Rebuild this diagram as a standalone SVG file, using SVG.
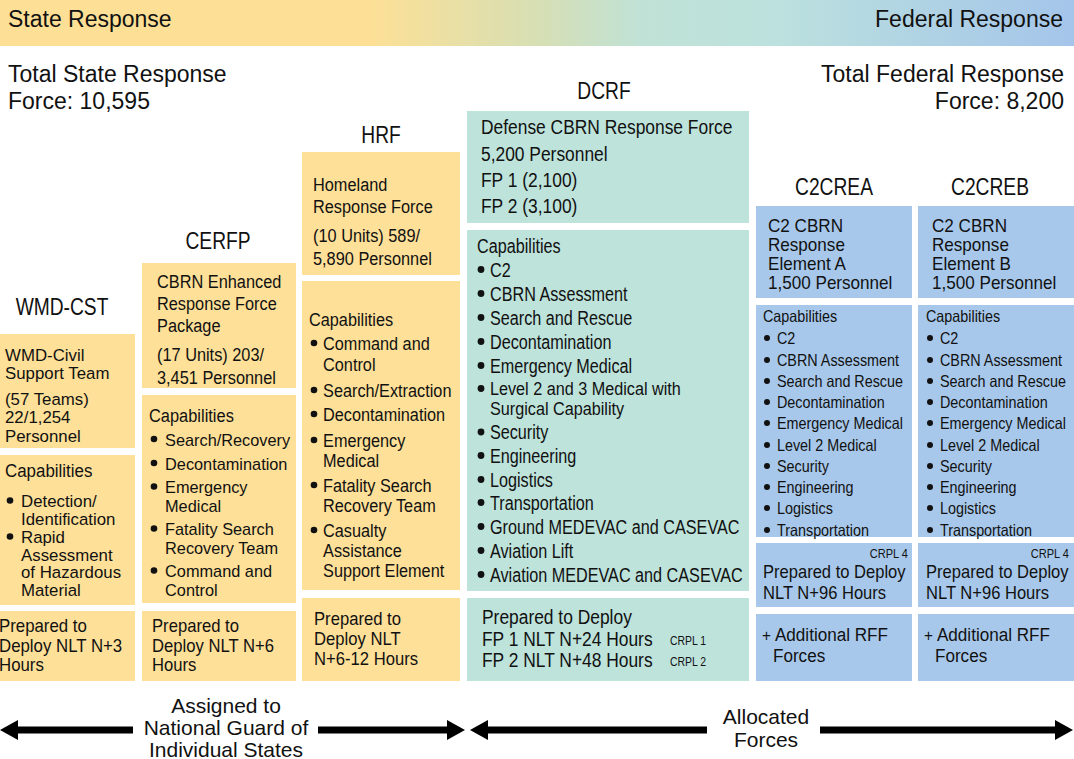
<svg xmlns="http://www.w3.org/2000/svg" width="1074" height="759" viewBox="0 0 1074 759">
<defs>
<linearGradient id="bar" x1="0" y1="0" x2="1074" y2="0" gradientUnits="userSpaceOnUse">
<stop offset="0" stop-color="#FDE096"/>
<stop offset="0.345" stop-color="#FDE096"/>
<stop offset="0.503" stop-color="#D6DFB4"/>
<stop offset="0.596" stop-color="#C0E2D6"/>
<stop offset="0.708" stop-color="#BDE2DD"/>
<stop offset="1" stop-color="#A4C5EA"/>
</linearGradient>
<marker id="ah" markerUnits="userSpaceOnUse" markerWidth="18" markerHeight="20" viewBox="0 0 18 20" refX="0" refY="10" orient="auto">
<path d="M0,0 L18,10 L0,20 Z" fill="#000"/>
</marker>
</defs>
<style>
text{font-family:"Liberation Sans",Arial,Helvetica,sans-serif;fill:#111}
.y{fill:#FEE098}.g{fill:#BEE3DB}.bl{fill:#A7C8EA}
.big{font-size:23px}
.hd{font-size:24px;text-anchor:middle}
.s19{font-size:19px}.s20{font-size:20px}.s16{font-size:16.5px}.s12{font-size:12px}.s17{font-size:17px}.s18{font-size:18px}.s175{font-size:17.5px}.s185{font-size:18.5px}
.b{fill:#111}
.arr{stroke:#000;stroke-width:7;fill:none}
.lbl{font-size:21px;text-anchor:middle}
.end{text-anchor:end}
</style>
<rect width="1074" height="759" fill="#fff"/>

<g id="banner">
<rect x="0" y="0" width="1074" height="46" fill="url(#bar)"/>
<text class="big" x="8" y="27">State Response</text>
<text class="big end" x="1063" y="27">Federal Response</text>
<text class="big" x="8" y="82">Total State Response</text>
<text class="big" x="8" y="109">Force: 10,595</text>
<text class="big end" x="1064" y="82">Total Federal Response</text>
<text class="big end" x="1064" y="109">Force: 8,200</text>
</g>

<!-- WMD-CST -->
<g id="wmd-cst">
<g transform="translate(62 0) scale(0.8 1)"><text class="hd" x="0" y="315">WMD-CST</text></g>
<g id="wmd-unit">
<rect class="y" x="0" y="334" width="135" height="114"/>
<g class="s16" transform="translate(5 0) scale(1.02 1)">
<text x="0" y="361">WMD-Civil</text>
<text x="0" y="379">Support Team</text>
<text x="0" y="405">(57 Teams)</text>
<text x="0" y="423.5">22/1,254</text>
<text x="0" y="442.5">Personnel</text>
</g>
</g>
<g id="wmd-cap">
<rect class="y" x="0" y="455" width="135" height="150"/>
<circle class="b" cx="10" cy="500.5" r="3.3"/>
<circle class="b" cx="10" cy="536.5" r="3.3"/>
<g class="s16" transform="translate(5 0) scale(1.02 1)">
<text class="s19" transform="scale(0.873 1)" x="0" y="477">Capabilities</text>
<text x="15.7" y="507">Detection/</text>
<text x="15.7" y="525">Identification</text>
<text x="15.7" y="543">Rapid</text>
<text x="15.7" y="561">Assessment</text>
<text x="15.7" y="578.5">of Hazardous</text>
<text x="15.7" y="596">Material</text>
</g>
</g>
<g id="wmd-deploy">
<rect class="y" x="0" y="611" width="135" height="70"/>
<g class="s18" transform="translate(-1 0) scale(0.935 1)">
<text x="0" y="632.5">Prepared to</text>
<text x="0" y="652">Deploy NLT N+3</text>
<text x="0" y="671.5">Hours</text>
</g>
</g>
</g>

<!-- CERFP -->
<g id="cerfp">
<g transform="translate(218 0) scale(0.8 1)"><text class="hd" x="0" y="249">CERFP</text></g>
<g id="cerfp-unit">
<rect class="y" x="142" y="263" width="154" height="125"/>
<g class="s19" transform="translate(157 0) scale(0.86 1)">
<text x="0" y="288">CBRN Enhanced</text>
<text x="0" y="310">Response Force</text>
<text x="0" y="332">Package</text>
<text x="0" y="361">(17 Units) 203/</text>
<text x="0" y="384">3,451 Personnel</text>
</g>
</g>
<g id="cerfp-cap">
<rect class="y" x="142" y="395" width="154" height="208"/>
<circle class="b" cx="154" cy="439" r="3.3"/>
<circle class="b" cx="154" cy="463" r="3.3"/>
<circle class="b" cx="154" cy="486.5" r="3.3"/>
<circle class="b" cx="154" cy="528.5" r="3.3"/>
<circle class="b" cx="154" cy="570.5" r="3.3"/>
<g class="s17" transform="translate(149 0) scale(0.96 1)">
<text class="s19" transform="scale(0.9 1)" x="0" y="422">Capabilities</text>
<text x="16.7" y="446">Search/Recovery</text>
<text x="16.7" y="470">Decontamination</text>
<text x="16.7" y="493">Emergency</text>
<text x="16.7" y="512">Medical</text>
<text x="16.7" y="535">Fatality Search</text>
<text x="16.7" y="554">Recovery Team</text>
<text x="16.7" y="577">Command and</text>
<text x="16.7" y="596">Control</text>
</g>
</g>
<g id="cerfp-deploy">
<rect class="y" x="142" y="611" width="154" height="70"/>
<g class="s18" transform="translate(152 0) scale(0.925 1)">
<text x="0" y="632">Prepared to</text>
<text x="0" y="652">Deploy NLT N+6</text>
<text x="0" y="671.5">Hours</text>
</g>
</g>
</g>

<!-- HRF -->
<g id="hrf">
<g transform="translate(381 0) scale(0.8 1)"><text class="hd" x="0" y="143">HRF</text></g>
<g id="hrf-unit">
<rect class="y" x="302" y="152" width="158" height="123"/>
<g class="s19" transform="translate(313 0) scale(0.86 1)">
<text x="0" y="191">Homeland</text>
<text x="0" y="213">Response Force</text>
<text x="0" y="242">(10 Units) 589/</text>
<text x="0" y="265">5,890 Personnel</text>
</g>
</g>
<g id="hrf-cap">
<rect class="y" x="302" y="281" width="158" height="309"/>
<circle class="b" cx="314" cy="343" r="3.3"/>
<circle class="b" cx="314" cy="390" r="3.3"/>
<circle class="b" cx="314" cy="414" r="3.3"/>
<circle class="b" cx="314" cy="440" r="3.3"/>
<circle class="b" cx="314" cy="485" r="3.3"/>
<circle class="b" cx="314" cy="530" r="3.3"/>
<g class="s185" transform="translate(309 0) scale(0.88 1)">
<text x="0" y="326">Capabilities</text>
<text x="16" y="350">Command and</text>
<text x="16" y="371">Control</text>
<text x="16" y="397">Search/Extraction</text>
<text x="16" y="421">Decontamination</text>
<text x="16" y="447">Emergency</text>
<text x="16" y="467">Medical</text>
<text x="16" y="492">Fatality Search</text>
<text x="16" y="512">Recovery Team</text>
<text x="16" y="537">Casualty</text>
<text x="16" y="557">Assistance</text>
<text x="16" y="577">Support Element</text>
</g>
</g>
<g id="hrf-deploy">
<rect class="y" x="302" y="598" width="158" height="83"/>
<g class="s185" transform="translate(314 0) scale(0.9 1)">
<text x="0" y="625">Prepared to</text>
<text x="0" y="645">Deploy NLT</text>
<text x="0" y="665">N+6-12 Hours</text>
</g>
</g>
</g>

<!-- DCRF -->
<g id="dcrf">
<g transform="translate(604 0) scale(0.8 1)"><text class="hd" x="0" y="99">DCRF</text></g>
<g id="dcrf-unit">
<rect class="g" x="467" y="111" width="282" height="112"/>
<g class="s20" transform="translate(481 0) scale(0.87 1)">
<text x="0" y="134">Defense CBRN Response Force</text>
<text x="0" y="161">5,200 Personnel</text>
<text x="0" y="187">FP 1 (2,100)</text>
<text x="0" y="213">FP 2 (3,100)</text>
</g>
</g>
<g id="dcrf-cap">
<rect class="g" x="467" y="230" width="282" height="361"/>
<circle class="b" cx="481" cy="269.5" r="3.4"/>
<circle class="b" cx="481" cy="293.5" r="3.4"/>
<circle class="b" cx="481" cy="317.5" r="3.4"/>
<circle class="b" cx="481" cy="341.5" r="3.4"/>
<circle class="b" cx="481" cy="365.5" r="3.4"/>
<circle class="b" cx="481" cy="388.5" r="3.4"/>
<circle class="b" cx="481" cy="432" r="3.4"/>
<circle class="b" cx="481" cy="455.5" r="3.4"/>
<circle class="b" cx="481" cy="479.5" r="3.4"/>
<circle class="b" cx="481" cy="502.5" r="3.4"/>
<circle class="b" cx="481" cy="526.5" r="3.4"/>
<circle class="b" cx="481" cy="550.5" r="3.4"/>
<circle class="b" cx="481" cy="574.5" r="3.4"/>
<g class="s20" transform="translate(477 0) scale(0.81 1)">
<text x="0" y="253">Capabilities</text>
<text x="16" y="277">C2</text>
<text x="16" y="301">CBRN Assessment</text>
<text x="16" y="325">Search and Rescue</text>
<text x="16" y="349">Decontamination</text>
<text x="16" y="373">Emergency Medical</text>
<text x="16" y="439.5">Security</text>
<text x="16" y="463">Engineering</text>
<text x="16" y="487">Logistics</text>
<text x="16" y="510">Transportation</text>
<text x="16" y="534">Ground MEDEVAC and CASEVAC</text>
<text x="16" y="558">Aviation Lift</text>
<text x="16" y="582">Aviation MEDEVAC and CASEVAC</text>
</g>
<g class="s185" transform="translate(490 0) scale(0.876 1)">
<text x="0" y="395.5">Level 2 and 3 Medical with</text>
<text x="0" y="415.5">Surgical Capability</text>
</g>
</g>
<g id="dcrf-deploy">
<rect class="g" x="467" y="598" width="282" height="83"/>
<g class="s20" transform="translate(482 0) scale(0.87 1)">
<text x="0" y="624">Prepared to Deploy</text>
<text x="0" y="646">FP 1 NLT N+24 Hours</text>
<text x="0" y="667">FP 2 NLT N+48 Hours</text>
<text class="s12" x="216" y="645">CRPL 1</text>
<text class="s12" x="216" y="666">CRPL 2</text>
</g>
</g>
</g>

<!-- C2CREA -->
<g id="c2crea">
<g transform="translate(834 0) scale(0.8 1)"><text class="hd" x="0" y="195">C2CREA</text></g>
<g id="c2crea-unit">
<rect class="bl" x="756" y="206" width="156" height="92"/>
<g class="s175" transform="translate(768 0) scale(0.977 1)">
<text x="0" y="232">C2 CBRN</text>
<text x="0" y="251">Response</text>
<text x="0" y="270">Element A</text>
<text x="0" y="289">1,500 Personnel</text>
</g>
</g>
<g id="c2crea-cap">
<rect class="bl" x="756" y="305" width="156" height="232"/>
<circle class="b" cx="767" cy="338" r="3"/>
<circle class="b" cx="767" cy="360" r="3"/>
<circle class="b" cx="767" cy="381" r="3"/>
<circle class="b" cx="767" cy="402" r="3"/>
<circle class="b" cx="767" cy="423" r="3"/>
<circle class="b" cx="767" cy="445" r="3"/>
<circle class="b" cx="767" cy="466" r="3"/>
<circle class="b" cx="767" cy="487" r="3"/>
<circle class="b" cx="767" cy="508" r="3"/>
<circle class="b" cx="767" cy="530" r="3"/>
<g class="s16" transform="translate(763 0) scale(0.87 1)">
<text x="0" y="322">Capabilities</text>
<text x="16.1" y="344">C2</text>
<text x="16.1" y="366">CBRN Assessment</text>
<text x="16.1" y="387">Search and Rescue</text>
<text x="16.1" y="408">Decontamination</text>
<text x="16.1" y="429">Emergency Medical</text>
<text x="16.1" y="451">Level 2 Medical</text>
<text x="16.1" y="472">Security</text>
<text x="16.1" y="493">Engineering</text>
<text x="16.1" y="514">Logistics</text>
<text x="16.1" y="536">Transportation</text>
</g>
</g>
<g id="c2crea-deploy">
<rect class="bl" x="756" y="543" width="156" height="64"/>
<g class="s18" transform="translate(763 0) scale(0.92 1)">
<text class="s12 end" x="157.6" y="558">CRPL 4</text>
<text x="0" y="578.5">Prepared to Deploy</text>
<text x="0" y="599">NLT N+96 Hours</text>
</g>
</g>
<g id="c2crea-rff">
<rect class="bl" x="756" y="614" width="156" height="67"/>
<g class="s19" transform="translate(762 0) scale(0.9 1)">
<text class="s17" x="0" y="641">+</text>
<text x="14.4" y="641">Additional RFF</text>
<text x="12.2" y="662">Forces</text>
</g>
</g>
</g>

<!-- C2CREB -->
<g id="c2creb">
<g transform="translate(990 0) scale(0.8 1)"><text class="hd" x="0" y="195">C2CREB</text></g>
<g id="c2creb-unit">
<rect class="bl" x="918" y="206" width="156" height="92"/>
<g class="s175" transform="translate(932 0) scale(0.977 1)">
<text x="0" y="232">C2 CBRN</text>
<text x="0" y="251">Response</text>
<text x="0" y="270">Element B</text>
<text x="0" y="289">1,500 Personnel</text>
</g>
</g>
<g id="c2creb-cap">
<rect class="bl" x="918" y="305" width="156" height="232"/>
<circle class="b" cx="930" cy="338" r="3"/>
<circle class="b" cx="930" cy="360" r="3"/>
<circle class="b" cx="930" cy="381" r="3"/>
<circle class="b" cx="930" cy="402" r="3"/>
<circle class="b" cx="930" cy="423" r="3"/>
<circle class="b" cx="930" cy="445" r="3"/>
<circle class="b" cx="930" cy="466" r="3"/>
<circle class="b" cx="930" cy="487" r="3"/>
<circle class="b" cx="930" cy="508" r="3"/>
<circle class="b" cx="930" cy="530" r="3"/>
<g class="s16" transform="translate(926 0) scale(0.87 1)">
<text x="0" y="322">Capabilities</text>
<text x="16.1" y="344">C2</text>
<text x="16.1" y="366">CBRN Assessment</text>
<text x="16.1" y="387">Search and Rescue</text>
<text x="16.1" y="408">Decontamination</text>
<text x="16.1" y="429">Emergency Medical</text>
<text x="16.1" y="451">Level 2 Medical</text>
<text x="16.1" y="472">Security</text>
<text x="16.1" y="493">Engineering</text>
<text x="16.1" y="514">Logistics</text>
<text x="16.1" y="536">Transportation</text>
</g>
</g>
<g id="c2creb-deploy">
<rect class="bl" x="918" y="543" width="156" height="64"/>
<g class="s18" transform="translate(926 0) scale(0.92 1)">
<text class="s12 end" x="155.4" y="558">CRPL 4</text>
<text x="0" y="578.5">Prepared to Deploy</text>
<text x="0" y="599">NLT N+96 Hours</text>
</g>
</g>
<g id="c2creb-rff">
<rect class="bl" x="918" y="614" width="156" height="67"/>
<g class="s19" transform="translate(924 0) scale(0.9 1)">
<text class="s17" x="0" y="641">+</text>
<text x="14.4" y="641">Additional RFF</text>
<text x="12.2" y="662">Forces</text>
</g>
</g>
</g>

<!-- bottom arrows -->
<g id="connectors">
<line class="arr" x1="133" y1="730" x2="18" y2="730" marker-end="url(#ah)"/>
<line class="arr" x1="318" y1="730" x2="447" y2="730" marker-end="url(#ah)"/>
<line class="arr" x1="707" y1="730" x2="488" y2="730" marker-end="url(#ah)"/>
<line class="arr" x1="820" y1="730" x2="1055" y2="730" marker-end="url(#ah)"/>
</g>
<g id="labels">
<text class="lbl" x="226" y="713">Assigned to</text>
<text class="lbl" x="226" y="735">National Guard of</text>
<text class="lbl" x="226" y="757">Individual States</text>
<text class="lbl" x="766" y="724">Allocated</text>
<text class="lbl" x="766" y="747">Forces</text>
</g>
</svg>
